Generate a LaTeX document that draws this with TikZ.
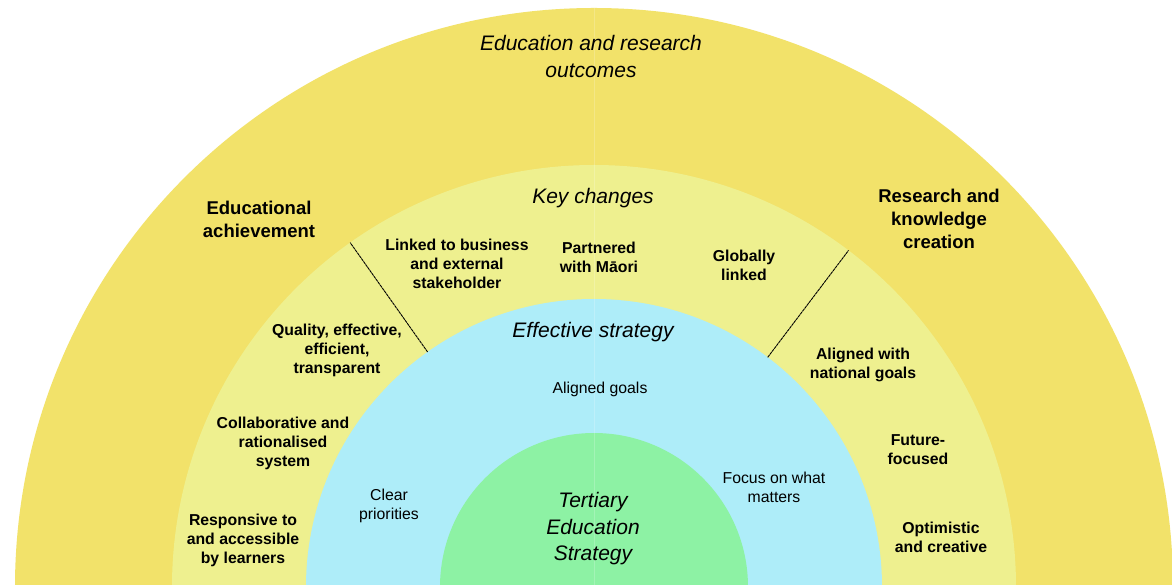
\documentclass[tikz,border=0pt]{standalone}
\usepackage{fontspec}
\setmainfont{Liberation Sans}
\usetikzlibrary{calc}
\definecolor{gold}{RGB}{242,226,106}
\definecolor{paleyellow}{RGB}{238,240,143}
\definecolor{skyblue}{RGB}{174,237,249}
\definecolor{mint}{RGB}{141,242,164}
\tikzset{
  titletext/.style={inner sep=0pt, align=center, font=\fontsize{21bp}{26.5bp}\selectfont\itshape},
  bigbold/.style={inner sep=0pt, align=center, font=\fontsize{18.5bp}{23bp}\selectfont\bfseries},
  smallbold/.style={inner sep=0pt, align=center, font=\fontsize{15.8bp}{19bp}\selectfont\bfseries},
  plain/.style={inner sep=0pt, align=center, font=\fontsize{15.8bp}{18.5bp}\selectfont},
  divider/.style={draw=black, line width=0.9bp, dash pattern=on 3bp off 0.6bp}
}
\begin{document}
\begin{tikzpicture}[x=1bp,y=-1bp]
\useasboundingbox (0,0) rectangle (1172,585);
\fill[white] (0,0) rectangle (1172,585);
\coordinate (c) at (594,587);
\begin{scope}
\clip (0,0) rectangle (1172,585);
\fill[gold] (c) circle[radius=579bp];
\fill[paleyellow] (c) circle[radius=422bp];
\fill[skyblue] (c) circle[radius=288bp];
\fill[mint] (c) circle[radius=154bp];
\draw[white, opacity=0.2, line width=0.7bp] (594,8) -- (594,585);
\end{scope}
% dividers
\coordinate (l1) at ($(c)+(125.3:288bp)$);
\coordinate (l2) at ($(c)+(125.3:422bp)$);
\coordinate (r1) at ($(c)+(52.9:288bp)$);
\coordinate (r2) at ($(c)+(52.9:422bp)$);
\draw[divider] (l1) -- (l2);
\draw[divider] (r1) -- (r2);
% titles
\node[titletext] (outcomes) at (591,56.5) {Education and research\\outcomes};
\node[titletext] (keych) at (593,198) {Key changes};
\node[titletext] (effs) at (593,332) {Effective strategy};
\node[titletext] (tes) at (593,529) {Tertiary\\Education\\Strategy};
% outer ring labels
\node[bigbold] (edach) at (259,219) {Educational\\achievement};
\node[bigbold] (rkc) at (939,219) {Research and\\knowledge\\creation};
% key changes labels
\node[smallbold] (linked) at (457,264) {Linked to business\\and external\\stakeholder};
\node[smallbold] (partner) at (599,257) {Partnered\\with Māori};
\node[smallbold] (global) at (744,265) {Globally\\linked};
\node[smallbold] (quality) at (337,350) {Quality, effective,\\efficient,\\transparent};
\node[smallbold] (collab) at (283,443.5) {Collaborative and\\rationalised\\system};
\node[smallbold] (respons) at (243,540) {Responsive to\\and accessible\\by learners};
\node[smallbold] (alignnat) at (863,365) {Aligned with\\national goals};
\node[smallbold] (future) at (918,449.5) {Future-\\focused};
\node[smallbold] (optim) at (941,537) {Optimistic\\and creative};
% strategy labels
\node[plain] (aligngoals) at (600,389.5) {Aligned goals};
\node[plain] (clear) at (389,506) {Clear\\priorities};
\node[plain] (focus) at (774,487.5) {Focus on what\\matters};
\end{tikzpicture}
\end{document}
